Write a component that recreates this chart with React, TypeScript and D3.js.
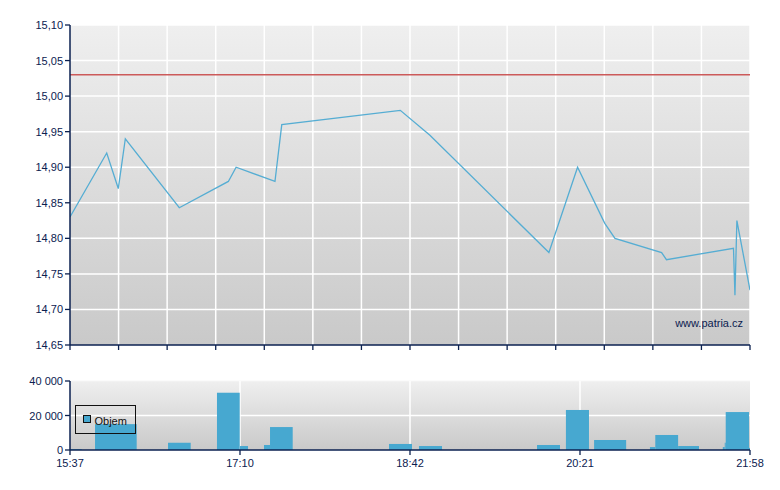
import React from "react";
import * as d3 from "d3";

// x positions are in session units (0..140 across the trading window)
const xTickUnits = [0, 35, 70, 105, 140];
const xTickLabels = ["15:37", "17:10", "18:42", "20:21", "21:58"];

const priceX = [0, 7.56, 9.94, 11.39, 22.5, 32.6, 34.2, 42.2, 43.6, 68.0, 74.1, 98.6, 104.5, 110.1, 112.2, 121.8, 122.8, 136.6, 136.9, 137.3, 140];
const priceY = [14.83, 14.92, 14.87, 14.94, 14.843, 14.88, 14.9, 14.88, 14.96, 14.98, 14.945, 14.78, 14.9, 14.821, 14.8, 14.78, 14.77, 14.786, 14.72, 14.825, 14.727];

const refPrice = 15.03;
const priceTicks = [14.65, 14.7, 14.75, 14.8, 14.85, 14.9, 14.95, 15.0, 15.05, 15.1];

const volStart = [0.06, 5.15, 20.18, 30.26, 35.0, 39.94, 41.18, 65.68, 71.85, 96.15, 102.1, 107.9, 119.4, 120.5, 125.2, 134.4, 134.8, 135.0, 139.8];
const volEnd = [2.41, 13.73, 24.85, 34.94, 36.65, 41.18, 45.85, 70.41, 76.59, 100.88, 106.85, 114.5, 120.5, 125.2, 129.5, 134.8, 135.0, 139.8, 140];
const volValue = [500, 15000, 4200, 33200, 2300, 2900, 13300, 3500, 2300, 2900, 23200, 5800, 1700, 8700, 2300, 1700, 4200, 22000, 1200];
const volTicks = [0, 20000, 40000];
const legendLabel = "Objem";
const watermark = "www.patria.cz";

const fmtPrice = (v: number) => v.toFixed(2).replace(".", ",");
const fmtVol = (v: number) => d3.format(",")(v).replace(/,/g, " ");

export default function App() {
  const W = 780, H = 490;
  const left = 70, right = 750;
  const mainTop = 25, mainBottom = 345;
  const volTop = 381, volBottom = 450;
  const axisColor = "#0b2150";
  const font = "'Liberation Sans', Arial, sans-serif";

  const x = d3.scaleLinear().domain([0, 140]).range([left, right]);
  const y = d3.scaleLinear().domain([14.65, 15.1]).range([mainBottom, mainTop]);
  const yv = d3.scaleLinear().domain([0, 40000]).range([volBottom, volTop]);

  const mainGrid = d3.range(10, 141, 10);
  const pts: [number, number][] = priceX.map((v, i) => [v, priceY[i]]);
  const line = d3.line<[number, number]>().x((d) => x(d[0])).y((d) => y(d[1]));

  return (
    <svg width={W} height={H} style={{ display: "block", position: "absolute", left: 0, top: 0 }} fontFamily={font}>
      <defs>
        <linearGradient id="bgMain" x1="0" y1="0" x2="0" y2="1">
          <stop offset="0" stopColor="#efefef" />
          <stop offset="1" stopColor="#c9c9c9" />
        </linearGradient>
        <linearGradient id="bgVol" x1="0" y1="0" x2="0" y2="1">
          <stop offset="0" stopColor="#efefef" />
          <stop offset="1" stopColor="#c9c9c9" />
        </linearGradient>
        <clipPath id="clipMain">
          <rect x={left} y={mainTop} width={right - left} height={mainBottom - mainTop} />
        </clipPath>
      </defs>
      <rect x={0} y={0} width={W} height={H} fill="#ffffff" />

      {/* Main price panel */}
      <rect x={left} y={mainTop} width={right - left} height={mainBottom - mainTop} fill="url(#bgMain)" />
      {priceTicks.slice(1).map((t) => (
        <line key={"hg" + t} x1={left} x2={right} y1={y(t)} y2={y(t)} stroke="#ffffff" strokeWidth={1.5} />
      ))}
      {mainGrid.map((g) => (
        <line key={"vg" + g} x1={x(g)} x2={x(g)} y1={mainTop} y2={mainBottom} stroke="#ffffff" strokeWidth={1.5} />
      ))}
      <line x1={left} x2={right} y1={y(refPrice)} y2={y(refPrice)} stroke="#cc5a5a" strokeWidth={1.5} />
      <path d={line(pts) || ""} fill="none" stroke="#55add3" strokeWidth={1.3} clipPath="url(#clipMain)" />
      <text x={743} y={327} textAnchor="end" fontSize={11} fill={axisColor}>{watermark}</text>

      <line x1={left} x2={left} y1={mainTop} y2={mainBottom} stroke={axisColor} strokeWidth={1.5} />
      <line x1={left} x2={right} y1={mainBottom} y2={mainBottom} stroke={axisColor} strokeWidth={1.5} />
      {priceTicks.map((t) => (
        <g key={"yt" + t}>
          <line x1={left - 5} x2={left} y1={y(t)} y2={y(t)} stroke={axisColor} strokeWidth={1.3} />
          <text x={63} y={y(t) + 4} textAnchor="end" fontSize={11} fill={axisColor}>{fmtPrice(t)}</text>
        </g>
      ))}
      {[0, ...mainGrid].map((g) => (
        <line key={"xt" + g} x1={x(g)} x2={x(g)} y1={mainBottom} y2={mainBottom + 5} stroke={axisColor} strokeWidth={1.3} />
      ))}

      {/* Volume panel */}
      <rect x={left} y={volTop} width={right - left} height={volBottom - volTop} fill="url(#bgVol)" />
      <line x1={left} x2={right} y1={yv(20000)} y2={yv(20000)} stroke="#ffffff" strokeWidth={1.5} />
      <line x1={left} x2={right} y1={yv(40000)} y2={yv(40000)} stroke="#f6f6f6" strokeWidth={1} />
      {xTickUnits.slice(1, -1).map((t) => (
        <line key={"vvg" + t} x1={x(t)} x2={x(t)} y1={volTop} y2={volBottom} stroke="#ffffff" strokeWidth={1.5} />
      ))}
      {volValue.map((v, i) => (
        <rect key={"b" + i} x={x(volStart[i])} y={yv(v)} width={x(volEnd[i]) - x(volStart[i])} height={volBottom - yv(v)} fill="#47a8d0" />
      ))}
      <rect x={75.5} y={405.5} width={60} height={28} fill="none" stroke="#111111" strokeWidth={1} />
      <rect x={83.5} y={415.5} width={7} height={7} fill="#47a8d0" stroke="#111111" strokeWidth={1} />
      <text x={94.5} y={424.5} fontSize={11} fill="#111111">{legendLabel}</text>

      <line x1={left} x2={left} y1={volTop} y2={volBottom} stroke={axisColor} strokeWidth={1.5} />
      <line x1={left} x2={right} y1={volBottom} y2={volBottom} stroke={axisColor} strokeWidth={1.5} />
      {volTicks.map((t) => (
        <g key={"vt" + t}>
          <line x1={left - 5} x2={left} y1={yv(t)} y2={yv(t)} stroke={axisColor} strokeWidth={1.3} />
          <text x={63} y={yv(t) + 4} textAnchor="end" fontSize={11} fill={axisColor}>{fmtVol(t)}</text>
        </g>
      ))}
      {xTickUnits.map((t, i) => (
        <g key={"vx" + t}>
          <line x1={x(t)} x2={x(t)} y1={volBottom} y2={volBottom + 5} stroke={axisColor} strokeWidth={1.3} />
          <text x={x(t)} y={467} textAnchor="middle" fontSize={11} fill={axisColor}>{xTickLabels[i]}</text>
        </g>
      ))}
    </svg>
  );
}
